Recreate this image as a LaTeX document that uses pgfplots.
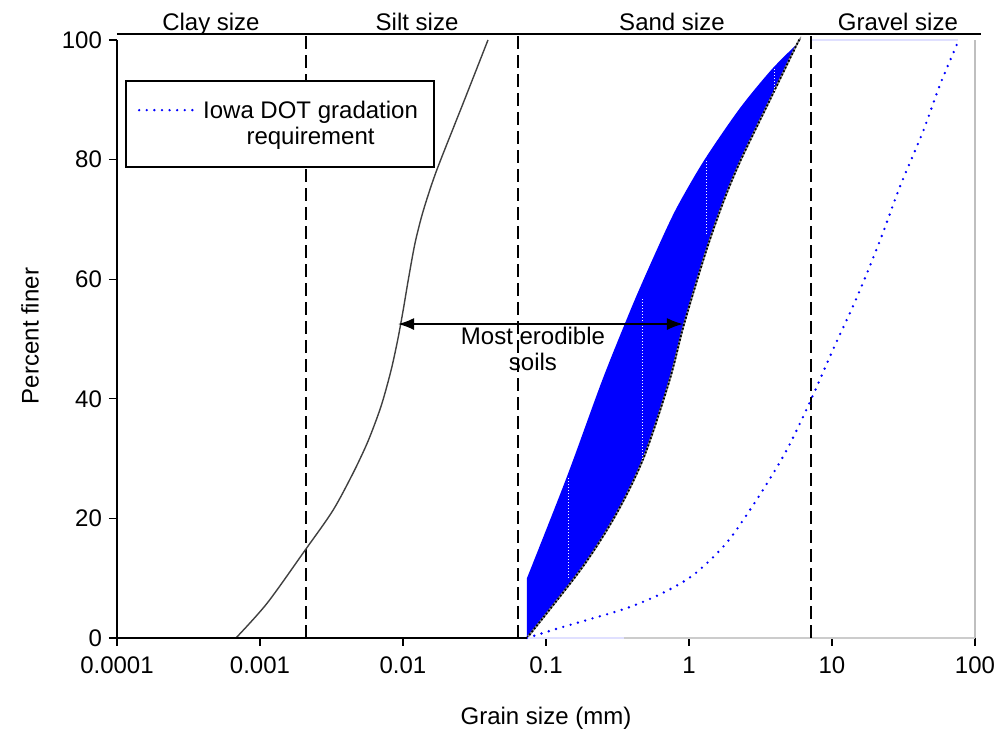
\documentclass[border=0pt]{standalone}
\usepackage{fontspec}
\setmainfont{Liberation Sans}
\usepackage{pgfplots}
\pgfplotsset{compat=1.18}
\usetikzlibrary{arrows.meta}
\newcommand\f{\fontsize{12}{13}\selectfont}
\begin{document}
\begin{tikzpicture}
\useasboundingbox (-58.5pt,-47pt) rectangle (440pt,319pt);
\begin{axis}[
 at={(0pt,0pt)}, anchor=south west,
 scale only axis, width=429pt, height=299pt,
 xmode=log, xmin=1e-4, xmax=100, ymin=0, ymax=100,
 axis x line*=bottom, axis y line*=left,
 x axis line style={-, draw=black!20, line width=0.6pt},
 y axis line style={-, black, line width=0.6pt},
 xtick={1e-4,1e-3,1e-2,1e-1,1,10,100},
 xticklabels={0.0001,0.001,0.01,0.1,1,10,100},
 ytick={0,20,40,60,80,100},
 yticklabels={0,20,40,60,80,100},
 xminorticks=false,
 tick align=outside, major tick length=4pt,
 tick style={black, line width=0.6pt},
 ticklabel style={font=\f},
 xticklabel style={yshift=-2pt},
 /pgf/number format/assume math mode=true,
 xlabel={Grain size (mm)}, ylabel={Percent finer},
 every axis x label/.style={at={(axis description cs:0.5,-0.1338)}, anchor=center, font=\f},
 every axis y label/.style={at={(axis description cs:-0.1014,0.505)}, anchor=center, rotate=90, font=\f},
 clip=false,
 legend style={at={(axis description cs:0.0093,0.933)}, anchor=north west, draw=black, line width=0.9pt, fill=white, font=\f, cells={align=center}, inner xsep=6pt, inner ysep=8pt},
 legend image code/.code={\path[draw=none] (0pt,0pt) -- (30pt,0pt); \draw[#1] (0pt,7pt) -- (27pt,7pt);},
]
% blue band (left edge up, right edge down)
\addplot[fill=blue, draw=none, smooth, forget plot] coordinates {
 (0.0736,10) (0.1402,27) (0.2464,43) (0.3770,54) (0.4823,60) (0.6973,68.5) (0.8666,73)
 (1.2855,80) (2.2548,88.5) (3.7628,95) (5.664,99.3) (5.973,100)
 (5.6918,99.3) (3.685,90) (2.310,80) (1.7429,73) (1.3171,64.7) (0.9241,52.5)
 (0.7293,43) (0.4830,30.2) (0.3112,20.8) (0.1794,11.8) (0.0736,0)} -- cycle;
% right edge of band
\addplot[black!45, line width=0.9pt, smooth, forget plot] coordinates {
 (0.0736,0) (0.1794,11.8) (0.3112,20.8) (0.4830,30.2) (0.7293,43) (0.9241,52.5)
 (1.3171,64.7) (1.7429,73) (2.310,80) (3.685,90) (5.6918,99.3) (5.973,100)};
\addplot[black, densely dotted, line width=0.9pt, smooth, forget plot] coordinates {
 (0.0736,0) (0.1794,11.8) (0.3112,20.8) (0.4830,30.2) (0.7293,43) (0.9241,52.5)
 (1.3171,64.7) (1.7429,73) (2.310,80) (3.685,90) (5.6918,99.3) (5.973,100)};
% white dotted steps inside band
\addplot[white, densely dotted, line width=0.5pt, forget plot] coordinates {(0.1426,10) (0.1426,27)};
\addplot[white, densely dotted, line width=0.5pt, forget plot] coordinates {(0.47,30) (0.47,57)};
\addplot[white, densely dotted, line width=0.5pt, forget plot] coordinates {(1.336,67.5) (1.336,80)};
\addplot[white, densely dotted, line width=0.5pt, forget plot] coordinates {(3.95,89) (3.95,95.5)};
% faint lines
\addplot[blue!12, line width=0.8pt, forget plot] coordinates {(7.1,100) (76,100)};
\addplot[blue!12, line width=0.8pt, forget plot] coordinates {(0.0736,0) (0.35,0)};
% size boundaries
\addplot[black, line width=1.2pt, dash pattern=on 6.5pt off 3pt, forget plot] coordinates {(0.00209,0) (0.00209,101)};
\addplot[black, line width=1.2pt, dash pattern=on 6.5pt off 3pt, forget plot] coordinates {(0.0637,0) (0.0637,101)};
\addplot[black, line width=1.2pt, dash pattern=on 6.5pt off 3pt, forget plot] coordinates {(7.1,0) (7.1,101)};
% fine soil curve
\addplot[black!75, line width=0.7pt, smooth, forget plot] coordinates {
 (0.000679,0) (0.00112,5.8) (0.00207,14.7) (0.00323,21.3) (0.00446,27.5) (0.0056,32.5)
 (0.00658,36.8) (0.00729,40) (0.00830,45) (0.00921,50) (0.01006,55) (0.01091,60)
 (0.01213,66) (0.01369,71) (0.01595,76) (0.01838,80) (0.02693,90) (0.0393,100)};
% Iowa DOT gradation requirement
\addplot[blue, line width=1.3pt, dash pattern=on 0pt off 3.8pt, line cap=round, smooth] coordinates {
 (0.0736,0) (0.1253,1.7) (0.2134,3.3) (0.368,5) (0.627,7.3) (1.067,10.5) (1.845,16.0)
 (3.14,24.0) (4.84,31.5) (7.02,39.5) (10.2,48.3) (14.96,57) (21.7,66.5) (29.9,75.5)
 (43.3,84.7) (56.9,92.5) (74.8,99.3) (76,100)};
\addlegendentry{Iowa DOT gradation\\requirement}
% axis decorations
\draw[black, line width=0.6pt] (axis cs:1e-4,0) -- (axis cs:0.0736,0);
\draw[black!25, line width=0.8pt] (axis cs:100,0) -- (axis cs:100,100);
\draw[black, line width=0.8pt] (axis cs:1e-4,101) -- (axis cs:110,101);
\node[font=\f, anchor=base] at (axis cs:0.000454,101.6) {Clay size};
\node[font=\f, anchor=base] at (axis cs:0.01254,101.6) {Silt size};
\node[font=\f, anchor=base] at (axis cs:0.760,101.6) {Sand size};
\node[font=\f, anchor=base] at (axis cs:28.9,101.6) {Gravel size};
\draw[{Latex[length=8pt,width=6pt]}-{Latex[length=8pt,width=6pt]}, line width=0.8pt] (axis cs:0.00923,52.5) -- (axis cs:0.908,52.5);
\node[font=\f, align=center] at (axis cs:0.0811,48.3) {Most erodible\\soils};
\end{axis}
\end{tikzpicture}
\end{document}
